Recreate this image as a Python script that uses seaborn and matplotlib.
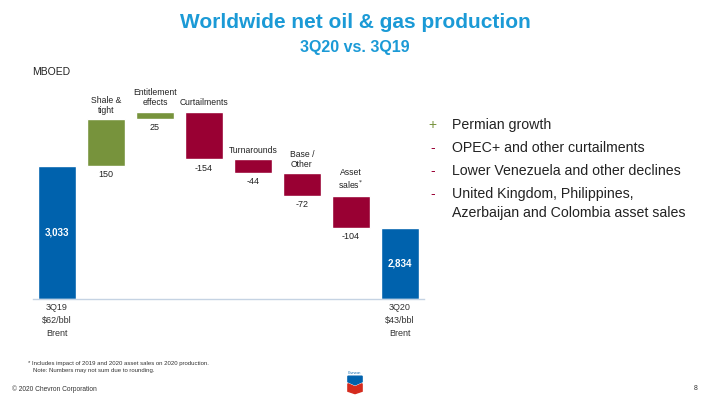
"""Cascada de produccion neta de petroleo y gas (3Q19 -> 3Q20)."""

import matplotlib

matplotlib.use("Agg")
import matplotlib.pyplot as plt
from matplotlib.patches import Polygon
import numpy as np
import seaborn as sns

sns.set_theme(style="white")
plt.rcParams["font.family"] = ["Liberation Sans", "DejaVu Sans"]

# --- datos -----------------------------------------------------------------
start_label = "3Q19\n\\$62/bbl\nBrent"
end_label = "3Q20\n\\$43/bbl\nBrent"
start_total = 3033
end_total = 2834
step_names = ["Shale &\ntight", "Entitlement\neffects", "Curtailments",
              "Turnarounds", "Base /\nOther", "Asset\nsales$^{*}$"]
step_values = [150, 25, -154, -44, -72, -104]
axis_floor = 2606  # el eje no empieza en cero

bullet_signs = ["+", "-", "-", "-"]
bullet_texts = ["Permian growth",
                "OPEC+ and other curtailments",
                "Lower Venezuela and other declines",
                "United Kingdom, Philippines,\nAzerbaijan and Colombia asset sales"]

BLUE = "#0062AD"
GREEN = "#77933C"
RED = "#990033"
TITLE = "#1B9AD6"

fig = plt.figure(figsize=(7.1, 3.96), dpi=100)
ax = fig.add_axes([0.0458, 0.245, 0.552, 0.5025])

# --- cascada -----------------------------------------------------------------
n = len(step_values)
x_steps = np.arange(1, n + 1)
levels = start_total + np.cumsum([0] + step_values)
bottoms = np.minimum(levels[:-1], levels[1:])
heights = np.abs(step_values)
colors = [GREEN if v > 0 else RED for v in step_values]
width = 0.76

ax.bar([0, n + 1], [start_total - axis_floor, end_total - axis_floor],
       bottom=axis_floor, width=width, color=BLUE)
ax.bar(x_steps, heights, bottom=bottoms, width=width, color=colors)

for x, total in zip([0, n + 1], [start_total, end_total]):
    ax.text(x, (total + axis_floor) / 2, f"{total:,}", ha="center", va="center",
            color="white", fontsize=7, weight="bold")

for x, b, h, v, name in zip(x_steps, bottoms, heights, step_values, step_names):
    ax.annotate(f"{v}", (x, b), xytext=(0, -3), textcoords="offset points",
                ha="center", va="top", fontsize=6.5, color="#222222")
    ax.annotate(name, (x, b + h), xytext=(0, 3), textcoords="offset points",
                ha="center", va="bottom", fontsize=6.2, color="#222222",
                linespacing=1.15)

ax.set_xlim(-0.5, n + 1.5)
ax.set_ylim(axis_floor, 3245)
ax.set_xticks([0, n + 1], [start_label, end_label], fontsize=6.5, color="#333333",
              linespacing=1.55)
ax.tick_params(axis="x", length=0, pad=3)
ax.set_yticks([])
sns.despine(ax=ax, left=True)
ax.spines["bottom"].set_color("#C5D3E3")
ax.spines["bottom"].set_linewidth(1.0)
ax.grid(False)

# --- textos de la diapositiva ----------------------------------------------
fig.text(0.5, 0.942, "Worldwide net oil & gas production", ha="center", va="center",
         fontsize=15, weight="bold", color=TITLE)
fig.text(0.5, 0.88, "3Q20 vs. 3Q19", ha="center", va="center", fontsize=11.5,
         weight="bold", color=TITLE)
fig.text(0.045, 0.818, "MBOED", ha="left", va="center", fontsize=7.5, color="#222222")

bullet_y = [0.684, 0.626, 0.568, 0.51]
for y, sign, txt in zip(bullet_y, bullet_signs, bullet_texts):
    fig.text(0.609, y, sign, ha="center", va="center", fontsize=10,
             color=GREEN if sign == "+" else RED)
    n_lines = txt.count("\n") + 1
    fig.text(0.636, y - 0.025 * (n_lines - 1), txt, ha="left", va="center",
             fontsize=10.2, color="#222222", linespacing=1.45)

fig.text(0.04, 0.083, "* Includes impact of 2019 and 2020 asset sales on 2020 production.",
         fontsize=4.3, color="#333333", va="center")
fig.text(0.046, 0.064, "Note: Numbers may not sum due to rounding.",
         fontsize=4.3, color="#333333", va="center")
fig.text(0.017, 0.018, "\u00a9 2020 Chevron Corporation", fontsize=4.8,
         color="#333333", va="center")
fig.text(0.983, 0.018, "8", fontsize=5, color="#333333", va="center", ha="right")

# logo simplificado
fig.text(0.5, 0.058, "Chevron", ha="center", va="center", fontsize=2.5, color=BLUE)
fig.patches.append(Polygon([(0.49, 0.05), (0.51, 0.05), (0.51, 0.036),
                            (0.5, 0.028), (0.49, 0.036)], closed=True,
                           transform=fig.transFigure, color=BLUE))
fig.patches.append(Polygon([(0.49, 0.031), (0.5, 0.023), (0.51, 0.031),
                            (0.51, 0.012), (0.5, 0.006), (0.49, 0.012)], closed=True,
                           transform=fig.transFigure, color="#D52B1E"))

fig.savefig("out.png", dpi=100)
